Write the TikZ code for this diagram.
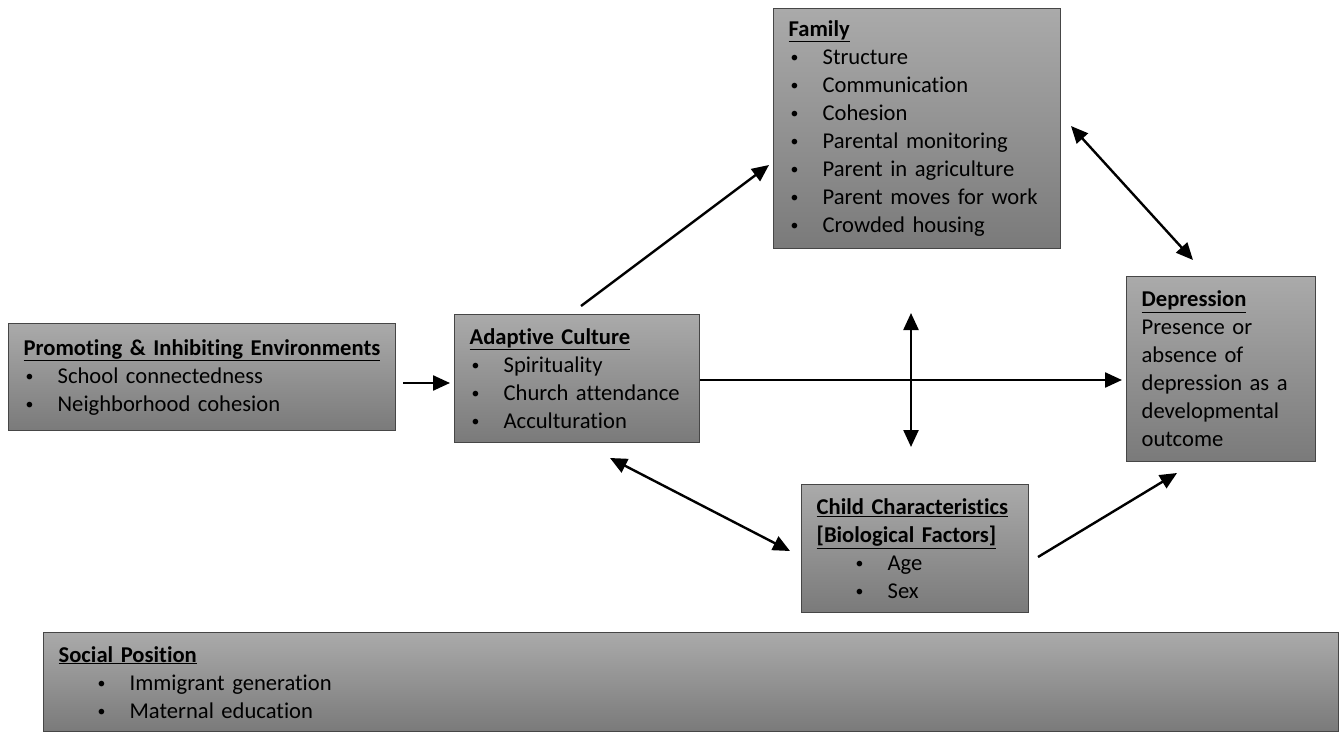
\documentclass[tikz,border=0pt]{standalone}
\usepackage{fontspec}
\setmainfont{Carlito}[Ligatures={NoCommon}]
\usetikzlibrary{arrows.meta}
\definecolor{boxtop}{RGB}{170,170,170}
\definecolor{boxbot}{RGB}{122,122,122}
\definecolor{boxline}{RGB}{70,70,70}
\newcommand\ttl[1]{\underline{\textbf{#1}}}
\newcommand\bul{\raisebox{0.18ex}{\scalebox{0.7}{\textbullet}}}
\newcommand\itm[2][0pt]{\hspace*{#1}\makebox[34pt][l]{\hspace*{2pt}\bul}#2}
\begin{document}
\begin{tikzpicture}[x=1pt,y=-1pt,
  box/.style={draw=boxline, line width=1.3pt, top color=boxtop, bottom color=boxbot,
    anchor=north west, align=left, inner xsep=15pt, inner ysep=0pt,
    font=\fontsize{22.6}{28}\selectfont},
  tip/.tip={Triangle[length=17pt,width=15pt]},
  arr/.style={line width=2.4pt, -tip},
  darr/.style={line width=2.4pt, tip-tip}]
\useasboundingbox (0,0) rectangle (1344,733);

\node[box, minimum width=387pt, minimum height=107pt, text width=357pt] (prom) at (8,323)
  {\ttl{Promoting \& Inhibiting Environments}\\ \itm{School connectedness}\\ \itm{Neighborhood cohesion}};
\node[box, minimum width=245pt, minimum height=128pt, text width=215pt] (adapt) at (454,314)
  {\ttl{Adaptive Culture}\\ \itm{Spirituality}\\ \itm{Church attendance}\\ \itm{Acculturation}};
\node[box, minimum width=287pt, minimum height=240pt, text width=257pt] (fam) at (773,8)
  {\ttl{Family}\\ \itm{Structure}\\ \itm{Communication}\\ \itm{Cohesion}\\ \itm{Parental monitoring}\\ \itm{Parent in agriculture}\\ \itm{Parent moves for work}\\ \itm{Crowded housing}};
\node[box, minimum width=189pt, minimum height=185pt, text width=159pt] (dep) at (1126,276)
  {\ttl{Depression}\\ Presence or\\ absence of\\ depression as a\\ developmental\\ outcome};
\node[box, minimum width=227pt, minimum height=128pt, text width=197pt] (child) at (801,484)
  {\ttl{Child Characteristics}\\ \ttl{[Biological Factors]}\\ \itm[37pt]{Age}\\ \itm[37pt]{Sex}};
\node[box, minimum width=1295pt, minimum height=99pt, text width=1265pt] (soc) at (43,632)
  {\ttl{Social Position}\\ \itm[37pt]{Immigrant generation}\\ \itm[37pt]{Maternal education}};

\coordinate (pa1) at (403,383);  \coordinate (pa2) at (450,383);
\coordinate (af1) at (581,306);  \coordinate (af2) at (769,165);
\coordinate (ad1) at (700,380);  \coordinate (ad2) at (1122,380);
\coordinate (fd1) at (1071,126); \coordinate (fd2) at (1193,260);
\coordinate (v1) at (911,313);   \coordinate (v2) at (911,447);
\coordinate (ac1) at (610,458);  \coordinate (ac2) at (790,551);
\coordinate (cd1) at (1038,557); \coordinate (cd2) at (1177,473);

\draw[arr] (pa1) -- (pa2);
\draw[arr] (af1) -- (af2);
\draw[arr] (ad1) -- (ad2);
\draw[darr] (fd1) -- (fd2);
\draw[darr] (v1) -- (v2);
\draw[darr] (ac1) -- (ac2);
\draw[arr] (cd1) -- (cd2);
\end{tikzpicture}
\end{document}
